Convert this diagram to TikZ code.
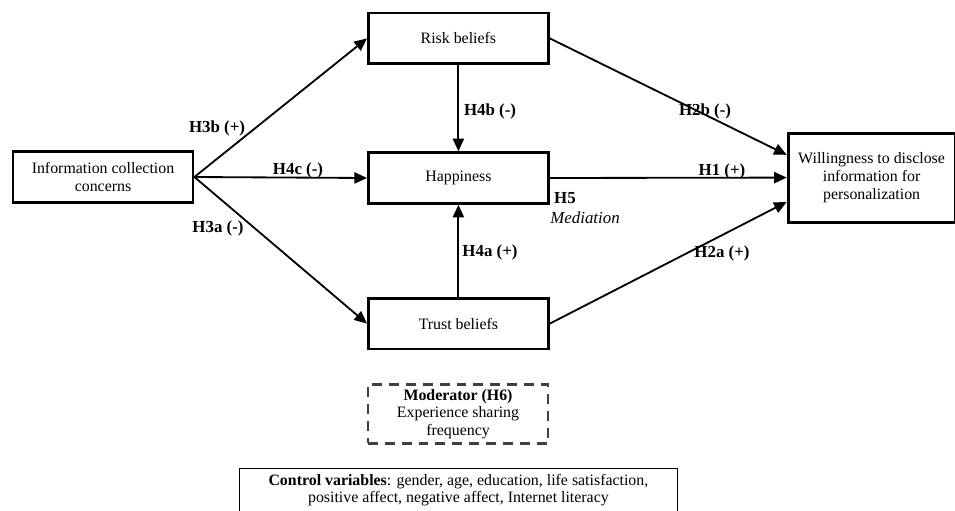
\documentclass[tikz,border=0pt]{standalone}
\usepackage{fontspec}
\setmainfont{Liberation Serif}
\usepackage{tikz}
\usetikzlibrary{arrows.meta}
\tikzset{cbox/.style={draw,line width=2pt,minimum width=4.5cm,minimum height=1.27cm,align=center,font=\fontsize{11.3}{12.8}\selectfont}}
\tikzset{mbox/.style={draw=black!75,line width=1.8pt,dash pattern=on 7pt off 5pt,minimum width=4.5cm,minimum height=1.45cm,align=center,font=\fontsize{11.3}{12.5}\selectfont}}
\tikzset{vbox/.style={draw,line width=0.6pt,minimum width=10.97cm,minimum height=1.3cm,align=center,font=\fontsize{11.3}{12.5}\selectfont}}
\tikzset{harrow/.style={-{Triangle[length=9pt,width=8pt]},line width=1.3pt}}
\tikzset{hlabel/.style={font=\fontsize{12}{13}\selectfont\bfseries,inner sep=1pt}}

\begin{document}
\begin{tikzpicture}
  \useasboundingbox (0,0) rectangle (23.875,12.75);

  \node[cbox] (info) at (2.575,8.325) {Information collection\\concerns};
  \node[cbox] (risk) at (11.46,11.79) {Risk beliefs};
  \node[cbox] (happy) at (11.46,8.3) {Happiness};
  \node[cbox] (trust) at (11.46,4.66) {Trust beliefs};
  \node[cbox,minimum width=4.175cm,minimum height=2.225cm] (will) at (21.79,8.31)
    {Willingness to disclose\\information for\\personalization};
  \node[mbox] (mod) at (11.45,2.4) {\textbf{Moderator (H6)}\\Experience sharing\\frequency};
  \node[vbox,anchor=north,inner sep=4pt] (ctrl) at (11.46,1.05)
    {\textbf{Control variables}: gender, age, education, life satisfaction,\\positive affect, negative affect, Internet literacy\\[12pt]};

  \draw[harrow] (info.east) -- (risk.west);
  \draw[harrow] (info.east) -- (happy.west);
  \draw[harrow] (info.east) -- (trust.west);
  \draw[harrow] (risk.south) -- (happy.north);
  \draw[harrow] (trust.north) -- (happy.south);
  \draw[harrow] (risk.east) -- (will.165);
  \draw[harrow] (happy.east) -- (will.west);
  \draw[harrow] (trust.east) -- (will.196);

  \node[hlabel] (h3b) at (5.425,9.55) {H3b (+)};
  \node[hlabel] (h4c) at (7.45,8.5) {H4c (-)};
  \node[hlabel] (h3a) at (5.45,7.05) {H3a (-)};
  \node[hlabel] (h4b) at (12.25,9.975) {H4b (-)};
  \node[hlabel] (h4a) at (12.25,6.45) {H4a (+)};
  \node[hlabel] (h2b) at (17.625,9.975) {H2b (-)};
  \node[hlabel] (h1) at (18.05,8.475) {H1 (+)};
  \node[hlabel] (h2a) at (18.05,6.425) {H2a (+)};
  \node[hlabel] (h5) at (14.125,7.8) {H5};
  \node[font=\fontsize{12}{13}\selectfont\itshape,inner sep=1pt] (med) at (14.625,7.3) {Mediation};
\end{tikzpicture}
\end{document}
